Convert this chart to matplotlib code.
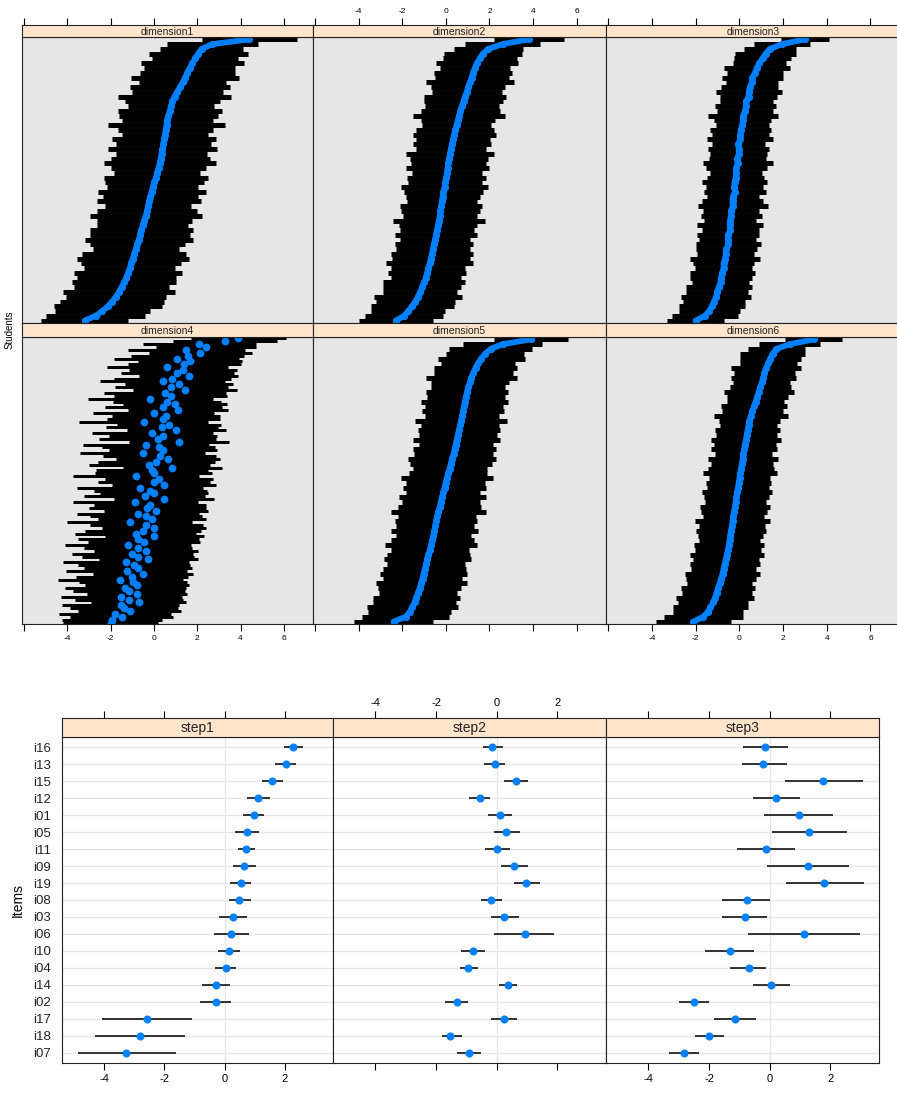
import numpy as np
import matplotlib.pyplot as plt

plt.rcParams['font.family'] = ['Liberation Sans', 'DejaVu Sans']

# ---- student estimates (sorted top -> bottom) and error bar half widths ----
est1 = [4.4, 2.7, 2.2, 2.05, 1.9, 1.78, 1.65, 1.54, 1.44, 1.33, 1.2, 1.08, 0.95, 0.85, 0.79,
        0.73, 0.67, 0.62, 0.58, 0.54, 0.5, 0.47, 0.43, 0.39, 0.35, 0.31, 0.27, 0.21, 0.15, 0.09,
        0.02, -0.05, -0.11, -0.17, -0.22, -0.27, -0.32, -0.38, -0.45, -0.52, -0.58, -0.64, -0.7,
        -0.77, -0.84, -0.91, -0.98, -1.05, -1.12, -1.2, -1.28, -1.38, -1.5, -1.62, -1.76, -1.93,
        -2.13, -2.38, -2.7, -3.2]
hw1 = [2.2, 2.1, 1.9, 2.3, 2.0, 2.4, 2.1, 2.2, 2.5, 2.0, 2.3, 2.1, 2.6, 2.2, 2.0, 2.4, 2.3, 2.1,
       2.7, 2.2, 2.0, 2.4, 2.2, 2.5, 2.1, 2.3, 2.6, 2.2, 2.0, 2.4, 2.3, 2.1, 2.5, 2.2, 2.4, 2.0,
       2.3, 2.6, 2.2, 2.1, 2.4, 2.3, 2.5, 2.2, 2.0, 2.4, 2.6, 2.3, 2.1, 2.5, 2.3, 2.4, 2.2, 2.6,
       2.3, 2.4, 2.5, 2.2, 2.3, 2.0]

est2 = [3.8, 2.6, 1.95, 1.7, 1.55, 1.43, 1.33, 1.25, 1.18, 1.11, 1.03, 0.96, 0.88, 0.81, 0.74,
        0.67, 0.61, 0.55, 0.49, 0.43, 0.38, 0.33, 0.28, 0.23, 0.19, 0.15, 0.12, 0.08, 0.05, 0.02,
        -0.02, -0.06, -0.11, -0.15, -0.18, -0.22, -0.25, -0.28, -0.31, -0.36, -0.41, -0.45, -0.5,
        -0.55, -0.6, -0.64, -0.69, -0.74, -0.8, -0.86, -0.92, -1.0, -1.09, -1.18, -1.28, -1.4,
        -1.55, -1.72, -1.92, -2.3]
hw2 = [1.6, 1.7, 1.6, 1.8, 1.7, 1.9, 1.6, 1.8, 1.7, 2.0, 1.7, 1.6, 1.9, 1.8, 1.7, 1.8, 2.1, 1.7,
       1.6, 1.8, 1.9, 1.7, 1.8, 1.6, 2.0, 1.8, 1.7, 1.9, 1.6, 1.8, 1.7, 2.0, 1.8, 1.7, 1.6, 1.9,
       1.8, 1.7, 2.1, 1.8, 1.7, 1.9, 1.6, 1.8, 1.7, 1.9, 1.8, 2.0, 1.7, 1.8, 1.6, 1.9, 1.8, 1.7,
       2.0, 1.8, 1.9, 1.7, 1.8, 1.7]

est3 = [3.0, 1.95, 1.4, 1.2, 1.06, 0.92, 0.8, 0.72, 0.6, 0.58, 0.48, 0.44, 0.42, 0.32, 0.3,
        0.26, 0.18, 0.16, 0.14, 0.06, 0.05, 0.03, -0.04, -0.03, -0.02, -0.1, -0.08, -0.14, -0.15,
        -0.16, -0.22, -0.23, -0.2, -0.3, -0.31, -0.3, -0.38, -0.36, -0.43, -0.44, -0.42, -0.52,
        -0.53, -0.5, -0.6, -0.62, -0.64, -0.72, -0.72, -0.78, -0.84, -0.86, -0.94, -1.02, -1.05,
        -1.16, -1.25, -1.38, -1.58, -2.0]
hw3 = [1.1, 1.3, 1.2, 1.4, 1.3, 1.2, 1.5, 1.3, 1.4, 1.2, 1.3, 1.5, 1.3, 1.2, 1.4, 1.3, 1.6, 1.3,
       1.2, 1.4, 1.3, 1.5, 1.2, 1.4, 1.3, 1.3, 1.6, 1.4, 1.2, 1.3, 1.5, 1.3, 1.4, 1.2, 1.4, 1.6,
       1.3, 1.4, 1.2, 1.5, 1.3, 1.4, 1.3, 1.5, 1.4, 1.3, 1.6, 1.4, 1.3, 1.5, 1.4, 1.3, 1.5, 1.4,
       1.6, 1.4, 1.5, 1.4, 1.5, 1.3]

est4 = [3.9, 3.3, 2.1, 2.4, 1.5, 2.15, 1.55, 1.05, 1.67, 1.4, 0.62, 1.35, 1.08, 1.6, 0.85, 0.4,
        1.15, 0.8, 1.45, 0.51, 0.77, -0.17, 0.6, 0.97, 0.44, 1.11, -0.02, 0.56, 0.44, -0.48,
        0.69, 0.36, 1.04, -0.08, 0.4, 0.18, 1.16, -0.36, 0.22, 0.4, -0.52, 0.26, 0.64, 0.11,
        -0.22, 0.85, -0.08, -0.01, -0.84, 0.23, 0.0, 0.47, -0.65, -0.17, 0.0, -0.42, 0.46, -0.86,
        -0.18, -0.3, 0.08, -0.74, -0.37, -0.1, -1.12, -0.35, 0.02, -0.51, -0.84, 0.02, -0.72,
        -0.46, -1.2, -0.74, -0.37, -1.0, -0.73, -0.26, -1.29, -0.92, -0.74, -1.27, -0.5, -1.02,
        -1.55, -0.98, -0.8, -1.33, -1.16, -0.79, -1.52, -1.16, -0.7, -1.54, -1.38, -1.13, -1.8,
        -1.5, -1.95, -2.0]
hw4 = [2.2, 2.4, 2.6, 2.3, 2.7, 2.4, 2.6, 2.9, 2.4, 2.6, 2.8, 2.5, 2.6, 2.3, 2.7, 2.9, 2.5, 2.6,
       2.4, 2.8, 2.6, 2.9, 2.5, 2.4, 2.7, 2.3, 2.8, 2.5, 2.6, 3.0, 2.4, 2.6, 2.3, 2.8, 2.5, 2.7,
       2.3, 2.9, 2.6, 2.5, 2.9, 2.6, 2.4, 2.7, 2.8, 2.3, 2.6, 2.7, 2.9, 2.5, 2.6, 2.4, 2.9, 2.6,
       2.5, 2.8, 2.3, 2.9, 2.6, 2.7, 2.4, 2.8, 2.6, 2.5, 2.9, 2.6, 2.4, 2.7, 2.8, 2.3, 2.8, 2.6,
       2.9, 2.5, 2.4, 2.8, 2.6, 2.3, 2.9, 2.6, 2.5, 2.8, 2.3, 2.6, 2.9, 2.5, 2.4, 2.8, 2.6, 2.3,
       2.8, 2.5, 2.2, 2.7, 2.5, 2.4, 2.6, 2.4, 2.3, 2.2]

est5 = [3.9, 2.6, 2.05, 1.8, 1.62, 1.48, 1.36, 1.26, 1.17, 1.1, 1.03, 0.97, 0.92, 0.87, 0.83,
        0.79, 0.74, 0.7, 0.65, 0.6, 0.55, 0.5, 0.45, 0.4, 0.35, 0.28, 0.23, 0.17, 0.11, 0.05,
        -0.01, -0.06, -0.12, -0.17, -0.23, -0.28, -0.34, -0.4, -0.45, -0.49, -0.53, -0.57, -0.62,
        -0.68, -0.74, -0.8, -0.86, -0.91, -0.97, -1.02, -1.07, -1.13, -1.2, -1.28, -1.36, -1.44,
        -1.54, -1.66, -1.85, -2.4]
hw5 = [1.7, 1.8, 1.9, 1.8, 2.0, 1.7, 1.9, 1.8, 2.1, 1.8, 1.7, 1.9, 1.8, 2.0, 1.8, 1.9, 1.7, 2.1,
       1.8, 1.9, 1.8, 2.0, 1.7, 1.9, 1.8, 2.0, 1.9, 1.7, 1.8, 2.1, 1.8, 1.9, 1.7, 2.0, 1.8, 1.9,
       2.2, 1.8, 1.9, 1.8, 2.0, 1.7, 1.9, 2.1, 1.8, 1.9, 2.0, 1.8, 1.9, 2.0, 1.8, 2.1, 1.9, 1.8,
       2.0, 1.9, 2.1, 1.9, 2.0, 1.8]

est6 = [3.4, 2.3, 1.7, 1.52, 1.42, 1.32, 1.22, 1.15, 1.1, 1.03, 0.96, 0.89, 0.82, 0.75, 0.67,
        0.6, 0.53, 0.46, 0.42, 0.38, 0.34, 0.3, 0.26, 0.22, 0.19, 0.16, 0.12, 0.08, 0.04, 0.01,
        -0.03, -0.06, -0.1, -0.13, -0.17, -0.2, -0.24, -0.27, -0.31, -0.34, -0.38, -0.41, -0.45,
        -0.48, -0.52, -0.57, -0.62, -0.67, -0.72, -0.77, -0.83, -0.9, -0.97, -1.04, -1.11, -1.2,
        -1.32, -1.45, -1.65, -2.1]
hw6 = [1.3, 1.4, 1.3, 1.5, 1.4, 1.3, 1.6, 1.4, 1.5, 1.3, 1.4, 1.6, 1.4, 1.3, 1.5, 1.4, 1.7, 1.4,
       1.3, 1.5, 1.4, 1.6, 1.4, 1.5, 1.3, 1.6, 1.4, 1.5, 1.7, 1.4, 1.5, 1.4, 1.6, 1.5, 1.4, 1.6,
       1.5, 1.4, 1.7, 1.5, 1.6, 1.5, 1.4, 1.6, 1.5, 1.7, 1.5, 1.6, 1.5, 1.7, 1.6, 1.5, 1.7, 1.6,
       1.8, 1.6, 1.7, 1.6, 1.8, 1.7]

dim_names = ["dimension1", "dimension2", "dimension3", "dimension4", "dimension5", "dimension6"]

# ---- item step estimates ----
items = ["i16", "i13", "i15", "i12", "i01", "i05", "i11", "i09", "i19", "i08",
         "i03", "i06", "i10", "i04", "i14", "i02", "i17", "i18", "i07"]
step1 = [2.28, 2.03, 1.58, 1.12, 0.96, 0.74, 0.71, 0.65, 0.53, 0.49,
         0.29, 0.2, 0.16, 0.03, -0.3, -0.3, -2.59, -2.8, -3.27]
step1_lo = [1.96, 1.69, 1.24, 0.73, 0.61, 0.35, 0.43, 0.28, 0.19, 0.14,
            -0.2, -0.36, -0.23, -0.32, -0.74, -0.83, -4.08, -4.29, -4.88]
step1_hi = [2.59, 2.37, 1.93, 1.51, 1.3, 1.14, 1.0, 1.05, 0.88, 0.88,
            0.76, 0.8, 0.51, 0.39, 0.18, 0.21, -1.07, -1.32, -1.61]
step2 = [-0.16, -0.07, 0.64, -0.56, 0.1, 0.31, 0.02, 0.56, 0.97, -0.19,
         0.24, 0.93, -0.78, -0.95, 0.37, -1.31, 0.24, -1.54, -0.91]
step2_lo = [-0.45, -0.42, 0.25, -0.92, -0.3, -0.08, -0.38, 0.13, 0.57, -0.52,
            -0.19, -0.09, -1.18, -1.21, 0.08, -1.71, -0.19, -1.81, -1.31]
step2_hi = [0.2, 0.28, 1.04, -0.21, 0.5, 0.75, 0.42, 1.03, 1.43, 0.17,
            0.74, 1.89, -0.39, -0.62, 0.67, -0.95, 0.67, -1.15, -0.52]
step3 = [-0.17, -0.21, 1.77, 0.22, 0.97, 1.3, -0.12, 1.26, 1.8, -0.75,
         -0.83, 1.14, -1.32, -0.7, 0.05, -2.49, -1.16, -2.0, -2.82]
step3_lo = [-0.88, -0.93, 0.5, -0.55, -0.18, 0.08, -1.09, -0.1, 0.53, -1.56,
            -1.56, -0.72, -2.14, -1.3, -0.55, -2.98, -1.84, -2.47, -3.31]
step3_hi = [0.61, 0.58, 3.08, 0.99, 2.08, 2.54, 0.82, 2.62, 3.11, 0.02,
            -0.1, 2.99, -0.52, -0.11, 0.65, -2.02, -0.47, -1.51, -2.32]
step_names = ["step1", "step2", "step3"]

W, H = 897, 1096
blue = "#0080ff"
strip_col = "#ffe5cc"
fig = plt.figure(figsize=(W / 100, H / 100), dpi=100)


def rect(x0, y0, x1, y1):
    return [x0 / W, 1 - y1 / H, (x1 - x0) / W, (y1 - y0) / H]


def frame(ax):
    for s in ax.spines.values():
        s.set_color("#222222")
        s.set_linewidth(0.8)


def set_ticks(ax, ticks, labels, side, fs):
    ax.set_xticks(ticks)
    if side == "top":
        ax.xaxis.tick_top()
        ax.tick_params(axis="x", top=True, bottom=False, labeltop=labels is not None,
                       labelbottom=False, direction="out", length=5, width=0.8,
                       labelsize=fs, pad=2)
    elif side == "bottom":
        ax.tick_params(axis="x", top=False, bottom=True, labeltop=False,
                       labelbottom=labels is not None, direction="out", length=5,
                       width=0.8, labelsize=fs, pad=3)
    else:
        ax.tick_params(axis="x", top=False, bottom=False, labeltop=False, labelbottom=False)
    if labels is not None:
        ax.set_xticklabels(labels)


def strip(x0, y0, x1, y1, title, xlim, fs, ticks=None, labels=None, tfs=6):
    s = fig.add_axes(rect(x0, y0, x1, y1))
    s.set_facecolor(strip_col)
    s.set_xlim(*xlim)
    s.set_yticks([])
    frame(s)
    s.text(0.5, 0.45, title, transform=s.transAxes, ha="center", va="center",
           fontsize=fs, color="#222222")
    if ticks is not None:
        set_ticks(s, ticks, labels, "top", tfs)
    else:
        s.set_xticks([])
    return s


# ---------------- student panels ----------------
stud_est = [est1, est2, est3, est4, est5, est6]
stud_hw = [hw1, hw2, hw3, hw4, hw5, hw6]
cols = [(22, 313), (313, 606), (606, 900)]
rows = [(25, 37, 323), (323, 337, 624)]
xt = [-6, -4, -2, 0, 2, 4, 6]
xl = ["", "-4", "-2", "0", "2", "4", "6"]
slim = (-6.1, 7.35)

for k in range(6):
    r, c = divmod(k, 3)
    x0, x1 = cols[c]
    sy0, py0, py1 = rows[r]
    est = np.array(stud_est[k])
    hw = np.array(stud_hw[k])
    n = len(est)
    ax = fig.add_axes(rect(x0, py0, x1, py1))
    ax.set_facecolor("#e6e6e6")
    yy = np.arange(n)
    lw = (py1 - py0) / n * 0.75
    ax.hlines(yy, est - hw, est + hw, color="black", lw=lw)
    if n < 80:
        # dense students: dots merge into a thick band
        ax.plot(est, yy, "-", color=blue, lw=4.2, solid_capstyle="round")
        ax.plot(est, yy, "o", color=blue, ms=5.2, mew=0)
    else:
        ax.plot(est, yy, "o", color=blue, ms=5.6, mew=0)
    ax.set_xlim(*slim)
    ax.set_ylim(n - 0.5, -0.5)
    ax.set_yticks([])
    frame(ax)
    if r == 1:
        set_ticks(ax, xt, xl if c != 1 else None, "bottom", 6)
    else:
        set_ticks(ax, xt, None, "none", 6)
    if r == 0:
        strip(x0, sy0, x1, py0, dim_names[k], slim, 7.5, xt, xl if c == 1 else None)
    else:
        strip(x0, sy0, x1, py0, dim_names[k], slim, 7.5)

fig.text(10 / W, 1 - 330 / H, "Students", rotation=90, ha="center", va="center", fontsize=7)

# ---------------- item panels ----------------
step_est = [step1, step2, step3]
step_lo = [step1_lo, step2_lo, step3_lo]
step_hi = [step1_hi, step2_hi, step3_hi]
bcols = [(62, 333), (333, 606), (606, 879)]
bt = [-4, -2, 0, 2]
bl = ["-4", "-2", "0", "2"]
blim = (-5.4, 3.6)
yi = np.arange(len(items))

for c in range(3):
    x0, x1 = bcols[c]
    ax = fig.add_axes(rect(x0, 737, x1, 1063))
    for y in yi:
        ax.axhline(y, color="#e6e6e6", lw=1, zorder=0)
    ax.axvline(0, color="#e6e6e6", lw=1, zorder=0)
    ax.hlines(yi, step_lo[c], step_hi[c], color="#111111", lw=1.2, zorder=2)
    ax.plot(step_est[c], yi, "o", color=blue, ms=5.8, mew=0, zorder=3)
    ax.set_xlim(*blim)
    ax.set_ylim(len(items) - 0.4, -0.6)
    frame(ax)
    if c == 0:
        ax.set_yticks(yi)
        ax.set_yticklabels(items)
        ax.tick_params(axis="y", length=0, labelsize=9.5, pad=8, colors="#222222")
    else:
        ax.set_yticks([])
    set_ticks(ax, bt, bl if c != 1 else None, "bottom", 8)
    strip(x0, 718, x1, 737, step_names[c], blim, 10, bt, bl if c == 1 else None, tfs=8)

fig.text(18 / W, 1 - 900 / H, "Items", rotation=90, ha="center", va="center", fontsize=10)

fig.savefig("out.png", dpi=100)
